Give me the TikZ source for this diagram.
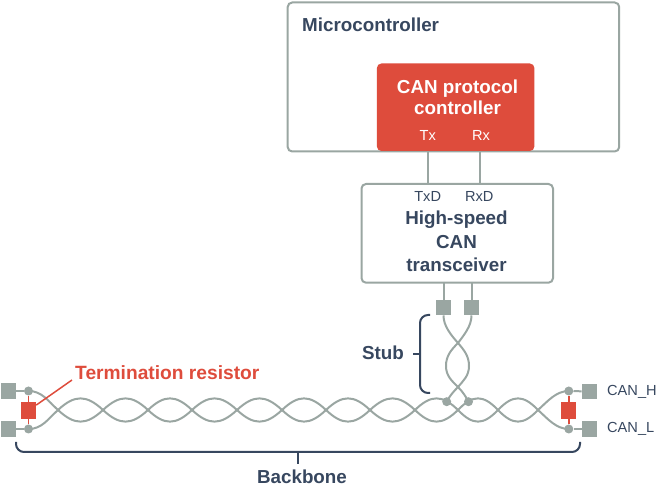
\documentclass[tikz,border=0pt]{standalone}
\usepackage{fontspec}
\setmainfont{Liberation Sans}
\definecolor{wire}{HTML}{9AA6A2}
\definecolor{redc}{HTML}{DE4C3C}
\definecolor{navy}{HTML}{37475F}
\tikzset{
  x=1pt,y=-1pt,
  box/.style={draw=wire,line width=2pt,rounded corners=4.5pt,fill=white},
  wireline/.style={draw=wire,line width=2pt},
  pad/.style={fill=wire,draw=none,minimum size=15.5pt,inner sep=0,rectangle},
  dot/.style={fill=wire,draw=none,circle,minimum size=9pt,inner sep=0},
  res/.style={fill=redc,draw=none,minimum width=15pt,minimum height=17.5pt,inner sep=0,rectangle},
  redline/.style={draw=redc,line width=1.5pt},
  bracket/.style={draw=navy,line width=2pt,rounded corners=8pt},
  head/.style={font=\bfseries\fontsize{18.8}{20}\selectfont,text=navy,align=center,inner sep=0},
  small/.style={font=\fontsize{14.6}{16}\selectfont,inner sep=0},
}
\begin{document}
\begin{tikzpicture}
\useasboundingbox (0,0) rectangle (657,486);
% boxes
\node[box,minimum width=331.5pt,minimum height=149pt,inner sep=0,anchor=north west] (mcu) at (286.7,1.5) {};
\node[head,anchor=west] (mculabel) at (302,25) {Microcontroller};
\node[fill=redc,rounded corners=4.5pt,minimum width=157.5pt,minimum height=87.5pt,inner sep=0,anchor=north west] (cpc) at (376.7,63.3) {};
\node[head,text=white,font=\bfseries\fontsize{18.8}{21}\selectfont] (cpclabel) at (457.5,97.5) {CAN protocol\\controller};
\node[small,text=white] (tx) at (427.7,135) {Tx};
\node[small,text=white] (rx) at (481,135) {Rx};
\node[box,minimum width=191.5pt,minimum height=98.7pt,inner sep=0,anchor=north west] (trx) at (360.5,183) {};
\node[small,text=navy] (txd) at (427.7,196.5) {TxD};
\node[small,text=navy] (rxd) at (479.3,196.5) {RxD};
\node[head,font=\bfseries\fontsize{18.8}{23.3}\selectfont] (trxlabel) at (456.5,241.5) {High-speed\\CAN\\transceiver};
\coordinate (txt) at (427.7,151);
\coordinate (txb) at (427.7,183);
\coordinate (rxt) at (480,151);
\coordinate (rxb) at (480,183);
\draw[wireline] (txt) -- (txb);
\draw[wireline] (rxt) -- (rxb);
% pads
\node[pad] (p1) at (443.5,307.5) {};
\node[pad] (p2) at (471.5,307.5) {};
\coordinate (t1) at (443.5,282);
\coordinate (t2) at (471.5,282);
\draw[wireline] (t1) -- (p1);
\draw[wireline] (t2) -- (p2);
% backbone
\draw[wireline] (28.5,391) .. controls (42,391) and (48,401) .. (58,410);
\draw[wireline] (28.5,429) .. controls (42,429) and (48,419) .. (58,410);
\draw[wireline] (538,410) .. controls (548,401) and (556,391) .. (569,391);
\draw[wireline] (538,410) .. controls (548,419) and (556,429) .. (569,429);
\foreach \xs/\xe in {58/103,103/148,148/192,192/237,237/282,282/326,326/370,370/415,415/458,458/498,498/538}{
  \pgfmathsetmacro{\cone}{\xs+(\xe-\xs)*0.37}
  \pgfmathsetmacro{\ctwo}{\xe-(\xe-\xs)*0.37}
  \draw[wireline] (\xs,410) .. controls (\cone,394.5) and (\ctwo,394.5) .. (\xe,410);
  \draw[wireline] (\xs,410) .. controls (\cone,425.5) and (\ctwo,425.5) .. (\xe,410);
}
% stub twist
\draw[wireline] (p1.south) .. controls (443.5,326) and (451,335) .. (458,343) .. controls (464,350) and (469,356) .. (469,366) .. controls (469,376) and (463,381) .. (458,387) .. controls (453,392) and (449,397) .. (446.7,401.7);
\draw[wireline] (p2.south) .. controls (471.5,326) and (464,335) .. (458,343) .. controls (451,350) and (446,356) .. (446,366) .. controls (446,376) and (452,381) .. (458,387) .. controls (463,392) and (466,397) .. (468.5,401.7);
\node[dot] (d1) at (446.7,401.7) {};
\node[dot] (d2) at (468.5,401.7) {};
% left termination
\node[pad] (l1) at (8.5,391) {};
\node[pad] (l2) at (8.5,429) {};
\node[dot] (ld1) at (28.5,391) {};
\node[dot] (ld2) at (28.5,429) {};
\draw[wireline] (l1) -- (ld1);
\draw[wireline] (l2) -- (ld2);
\node[res] (lr) at (28.5,410.5) {};
\draw[redline] (ld1) -- (lr);
\draw[redline] (ld2) -- (lr);
% right termination
\node[pad] (r1) at (589.5,391.5) {};
\node[pad] (r2) at (589.5,429) {};
\node[dot] (rd1) at (568.8,391) {};
\node[dot] (rd2) at (568.8,429) {};
\draw[wireline] (r1) -- (rd1);
\draw[wireline] (r2) -- (rd2);
\node[res] (rr) at (568.8,410.5) {};
\draw[redline] (rd1) -- (rr);
\draw[redline] (rd2) -- (rr);
\node[small,text=navy,anchor=west] (canh) at (607,391.5) {CAN\_H};
\node[small,text=navy,anchor=west] (canl) at (607,429) {CAN\_L};
% termination label
\node[font=\bfseries\fontsize{19.2}{21}\selectfont,text=redc,anchor=west,inner sep=0] (tlabel) at (75,373) {Termination resistor};
\coordinate (tl) at (72,380);
\draw[redline] (tl) -- (lr.35);
% stub bracket
\coordinate (sa) at (430,315);
\coordinate (sb) at (430,393);
\coordinate (sm) at (420,354);
\coordinate (sl) at (412.7,354);
\draw[bracket] (sa) -- (420,315) -- (420,393) -- (sb);
\draw[navy,line width=2pt] (sm) -- (sl);
\node[head,anchor=east] (stub) at (404,353) {Stub};
% backbone bracket
\coordinate (ba) at (16,442);
\coordinate (bb) at (580,442);
\coordinate (bm) at (298,452);
\coordinate (bl) at (298,464);
\draw[bracket] (ba) -- (16,452) -- (580,452) -- (bb);
\draw[navy,line width=2pt] (bm) -- (bl);
\node[head] (bone) at (302,477) {Backbone};
\end{tikzpicture}
\end{document}
